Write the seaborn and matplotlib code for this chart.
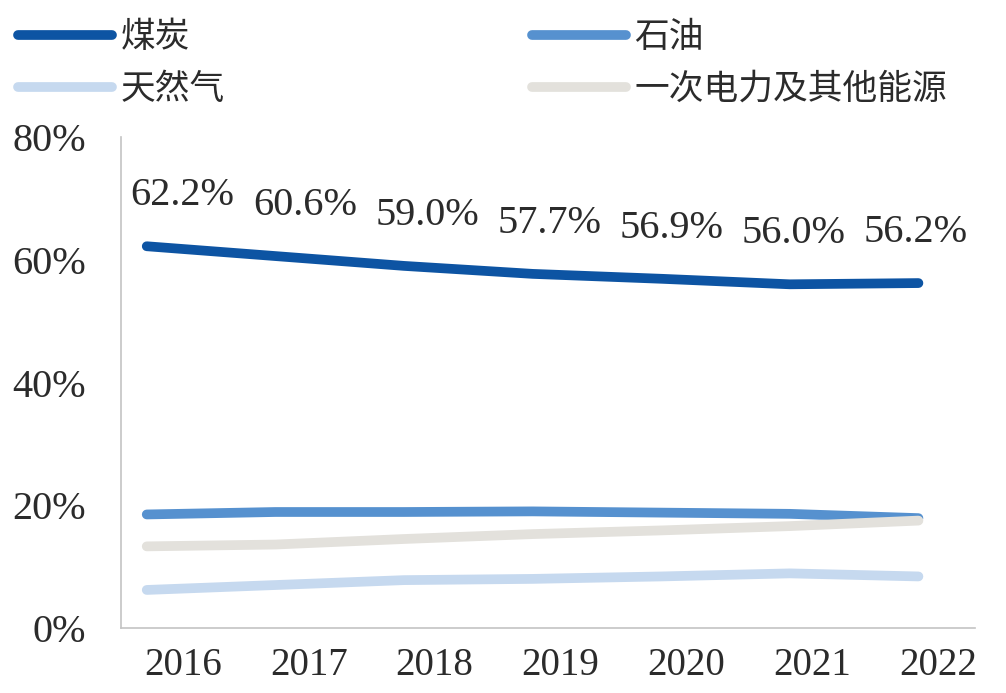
import numpy as np
import pandas as pd
import matplotlib
matplotlib.use("Agg")
import matplotlib.pyplot as plt
import matplotlib.transforms as mtransforms
from matplotlib.lines import Line2D
import seaborn as sns

# data (share of energy consumption, %)
years = ["2016", "2017", "2018", "2019", "2020", "2021", "2022"]
coal = [62.2, 60.6, 59.0, 57.7, 56.9, 56.0, 56.2]
oil = [18.5, 18.9, 18.9, 19.0, 18.8, 18.6, 17.9]
gas = [6.2, 7.0, 7.8, 8.0, 8.4, 8.9, 8.4]
other = [13.3, 13.6, 14.5, 15.3, 15.9, 16.6, 17.5]
series_names = ["煤炭", "石油", "天然气", "一次电力及其他能源"]
yticks = [0, 20, 40, 60, 80]

colors = {"煤炭": "#0d54a3", "石油": "#5691cf",
          "天然气": "#c6d9ef", "一次电力及其他能源": "#e3e1dc"}
text_color = "#2b2b2b"

sns.set_theme(style="white")
plt.rcParams["font.family"] = ["Liberation Serif", "Noto Sans CJK SC", "DejaVu Sans"]

df = pd.DataFrame({"年份": years, "煤炭": coal, "石油": oil,
                   "天然气": gas, "一次电力及其他能源": other})
df["idx"] = np.arange(len(years))
long = df.melt(id_vars=["年份", "idx"], value_vars=series_names,
               var_name="能源", value_name="占比")

fig = plt.figure(figsize=(10.06, 6.93), dpi=100)
ax = fig.add_axes([0.1203, 0.0938, 0.8489, 0.7085])

sns.lineplot(data=long, x="idx", y="占比", hue="能源", hue_order=series_names,
             palette=colors, linewidth=7, solid_capstyle="round",
             legend=False, ax=ax)

ax.set_xlim(-0.2, 6.44)
ax.set_ylim(0, 80)
ax.set_xlabel("")
ax.set_ylabel("")

ax.set_yticks(yticks)
ax.set_yticklabels([f"{v}%" for v in yticks], fontsize=29, color=text_color)
ax.set_xticks(df["idx"])
ax.set_xticklabels(years, fontsize=28, color=text_color)
ax.tick_params(axis="y", length=0, pad=25)
ax.tick_params(axis="x", length=0, pad=14)

# year labels sit a little right of the data points in the reference
for i, lab in enumerate(ax.get_xticklabels()):
    dx = (36 - 2.7 * i) / 100
    lab.set_transform(lab.get_transform() +
                      mtransforms.ScaledTranslation(dx, 0, fig.dpi_scale_trans))

for side in ["top", "right"]:
    ax.spines[side].set_visible(False)
for side in ["left", "bottom"]:
    ax.spines[side].set_color("#c4c4c4")
    ax.spines[side].set_linewidth(1.2)

# coal value labels
for i, v in enumerate(coal):
    dx = (36 - 6.5 * i) * 0.72
    ax.annotate(f"{v:.1f}%", (i, v), xytext=(dx, 41 * 0.72),
                textcoords="offset points", ha="center", va="baseline",
                fontsize=29, color=text_color)

order = ["煤炭", "天然气", "石油", "一次电力及其他能源"]
handles = [Line2D([], [], color=colors[n], linewidth=7, solid_capstyle="round")
           for n in order]
fig.legend(handles, order, ncol=2, loc="upper left",
           bbox_to_anchor=(18 / 1006, 1 - 22 / 693), frameon=False,
           fontsize=25, handlelength=2.7, handletextpad=0.25,
           columnspacing=8.85, labelspacing=0.55, borderpad=0,
           borderaxespad=0, labelcolor=text_color)

fig.savefig("out.png", dpi=100, facecolor="white")
